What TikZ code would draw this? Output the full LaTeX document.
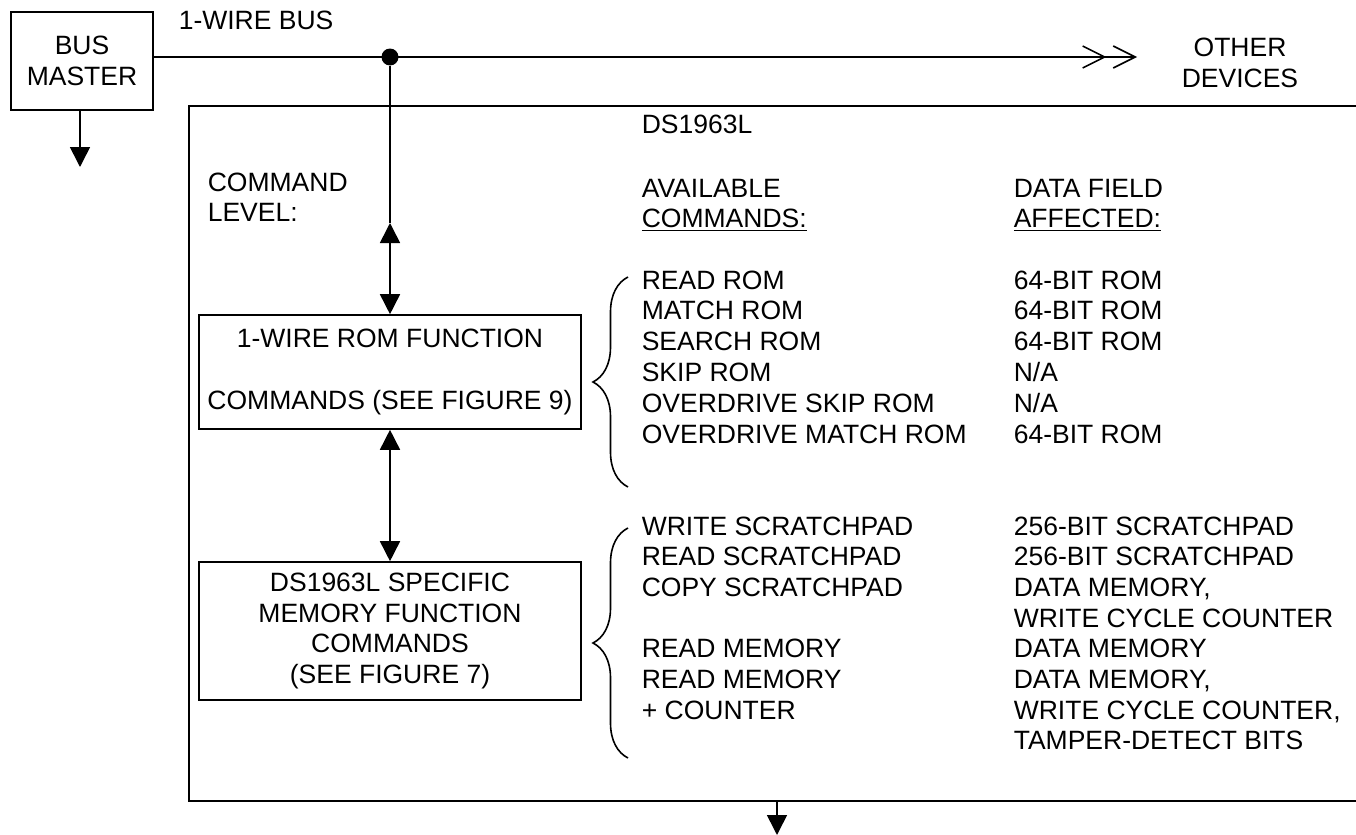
\documentclass[tikz,border=0pt]{standalone}
\usepackage{fontspec}
\setmainfont{Liberation Sans}
\usetikzlibrary{arrows.meta, positioning, decorations.pathreplacing}
\tikzset{
    >={Triangle[length=10pt,width=10pt]}, % filled arrow heads
    every node/.style={font=\fontsize{13.25}{15.35}\selectfont, inner sep=0pt}, % all text in one size
    block/.style={draw, line width=0.8pt, align=center}, % the framed boxes
    txt/.style={anchor=base west}, % a text line set on its baseline
    junction/.style={circle, fill, minimum size=8.5pt}, % the dot on the bus
    curly/.style={decorate, decoration={brace, amplitude=17.5pt}}, % the braces
}

\begin{document}
\begin{tikzpicture}[x=0.5pt, y=-0.5pt, line width=0.8pt]
    \useasboundingbox (0,0) rectangle (1356,835);
    \node[block, minimum width=71pt, minimum height=49pt] (master) at (82,61) {BUS\\MASTER};
    \node[txt] (buslbl) at (178,30) {1-WIRE BUS};
    \node[junction] (j) at (390,57) {};
    \coordinate (other) at (1143,57);
    \node[align=center] (others) at (1240,63) {OTHER\\DEVICES};
    \draw[-{Straight Barb[length=11pt,width=11pt,sep=3pt]Straight Barb[length=11pt,width=11pt,sep=3pt]}] (master.east |- j) -- (other);

    \coordinate (dnw) at (189,106);
    \coordinate (dsw) at (189,801);
    \draw (1356,106) -- (dnw) -- (dsw) -- (1356,801);

    \node[txt] (dev) at (641,133) {DS1963L};
    \node[txt] (lvl1) at (207,191) {COMMAND};
    \node[txt] (lvl2) at (207,221) {LEVEL:};
    \node[txt] (avl1) at (641,197) {AVAILABLE};
    \node[txt] (avl2) at (641,227) {\underline{COMMANDS:}};
    \node[txt] (fld1) at (1013,197) {DATA FIELD};
    \node[txt] (fld2) at (1013,227) {\underline{AFFECTED:}};

    \node[block, minimum width=191pt, minimum height=57pt] (rom) at (390,372) {1-WIRE ROM FUNCTION\\[15.35pt]COMMANDS (SEE FIGURE 9)};
    \node[block, minimum width=191pt, minimum height=69pt] (mem) at (390,631) {DS1963L SPECIFIC\\MEMORY FUNCTION\\COMMANDS\\(SEE FIGURE 7)};

    \coordinate (up) at (390,223);
    \draw (j) -- (up);
    \draw[<->] (up) -- (rom);
    \draw[<->] (rom) -- (mem);
    \coordinate (mout) at (80,167);
    \draw[->] (master.south -| mout) -- (mout);
    \coordinate (dout) at (777,835);
    \draw[->] (dout |- dsw) -- (dout);

    \foreach \t [count=\i from 0] in {READ ROM, MATCH ROM, SEARCH ROM, SKIP ROM, OVERDRIVE SKIP ROM, OVERDRIVE MATCH ROM}
        \node[txt] (rc\i) at (641,289+30.8*\i) {\t};
    \foreach \t [count=\i from 0] in {64-BIT ROM, 64-BIT ROM, 64-BIT ROM, N/A, N/A, 64-BIT ROM}
        \node[txt] (rf\i) at (1013,289+30.8*\i) {\t};
    \foreach \n/\t in {0/WRITE SCRATCHPAD, 1/READ SCRATCHPAD, 2/COPY SCRATCHPAD, 4/READ MEMORY, 5/READ MEMORY, 6/+ COUNTER}
        \node[txt] (mc\n) at (641,535+30.7*\n) {\t};
    \foreach \t [count=\i from 0] in {256-BIT SCRATCHPAD, 256-BIT SCRATCHPAD, {DATA MEMORY,}, WRITE CYCLE COUNTER, DATA MEMORY, {DATA MEMORY,}, {WRITE CYCLE COUNTER,}, TAMPER-DETECT BITS}
        \node[txt] (mf\i) at (1013,535+30.7*\i) {\t};

    \draw[curly] (628,487) -- (628,277);
    \draw[curly] (628,758) -- (628,528);
\end{tikzpicture}
\end{document}
